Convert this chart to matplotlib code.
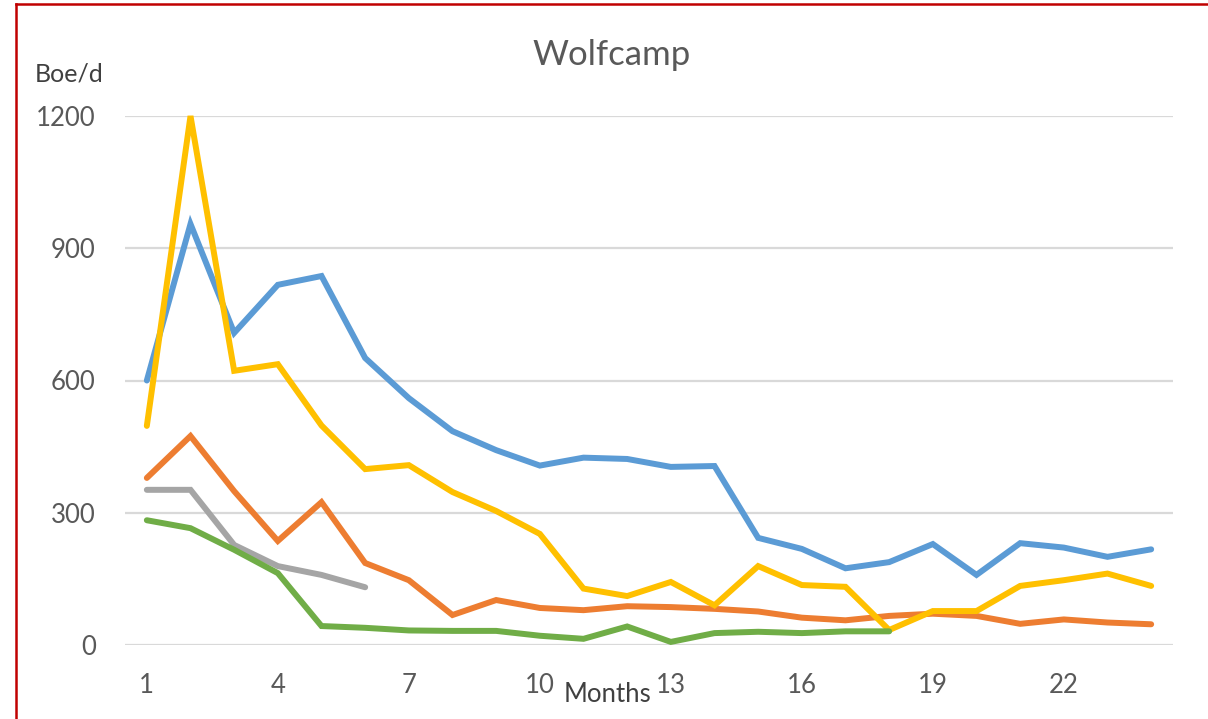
"""
Wolfcamp well production decline, Boe/d by month.
"""
import matplotlib
matplotlib.use("Agg")
import matplotlib.pyplot as plt
from matplotlib.lines import Line2D

BLUE   = "#5B9BD5"
ORANGE = "#ED7D31"
GRAY   = "#A5A5A5"
YELLOW = "#FFC000"
GREEN  = "#70AD47"
TEXT   = "#595959"
GRID   = "#D9D9D9"
BORDER = "#C00000"

months = list(range(1, 25))
well_blue = [600, 955, 708, 817, 837, 651, 560, 485, 442, 407, 425, 422,
             404, 406, 243, 218, 174, 188, 229, 159, 231, 221, 200, 217]
well_yellow = [497, 1200, 622, 637, 498, 399, 408, 347, 304, 252, 128, 111,
               143, 90, 179, 136, 132, 34, 77, 77, 134, 147, 162, 134]
well_orange = [379, 474, 349, 236, 324, 186, 147, 68, 102, 84, 79, 88,
               86, 82, 76, 62, 56, 66, 71, 66, 48, 58, 51, 47]
well_gray = [352, 352, 227, 179, 159, 131]
well_green = [283, 265, 216, 163, 43, 39, 33, 32, 32, 21, 14, 42,
              7, 27, 30, 27, 31, 31]

x_ticks = [1, 4, 7, 10, 13, 16, 19, 22]
y_ticks = [0, 300, 600, 900, 1200]

plt.rcParams["font.family"] = ["Lato", "DejaVu Sans"]

fig = plt.figure(figsize=(12.08, 7.19), dpi=100)
fig.patch.set_facecolor("white")
ax = fig.add_axes([125 / 1208, 1 - 645 / 719, 1048 / 1208, 529 / 719])

for series, color in [(well_blue, BLUE), (well_orange, ORANGE), (well_gray, GRAY),
                      (well_yellow, YELLOW), (well_green, GREEN)]:
    ax.plot(months[:len(series)], series, color=color, linewidth=4.3,
            solid_capstyle="round", solid_joinstyle="miter", clip_on=False)

ax.set_xlim(0.5, 24.5)
ax.set_ylim(0, 1200)
ax.set_xticks(x_ticks)
ax.set_yticks(y_ticks)
ax.tick_params(colors=TEXT, labelsize=18.5, length=0)
ax.tick_params(axis="x", pad=20)
ax.tick_params(axis="y", pad=21)
for spine in ax.spines.values():
    spine.set_visible(False)
ax.yaxis.grid(True, color=GRID, linewidth=1.6)
ax.xaxis.grid(False)
ax.set_axisbelow(True)

fig.text(612 / 1208, 1 - 55 / 719, "Wolfcamp", ha="center", va="center",
         fontsize=25, color=TEXT)
fig.text(35 / 1208, 1 - 74 / 719, "Boe/d", ha="left", va="center",
         fontsize=18, color="#404040")
fig.text(607 / 1208, 1 - 694 / 719, "Months", ha="center", va="center",
         fontsize=18.5, color="#404040")

# red frame around the chart (top and left edges visible)
fig.add_artist(Line2D([16 / 1208, 1], [1 - 4 / 719, 1 - 4 / 719],
                      transform=fig.transFigure, color=BORDER, linewidth=1.8))
fig.add_artist(Line2D([16 / 1208, 16 / 1208], [0, 1 - 4 / 719],
                      transform=fig.transFigure, color=BORDER, linewidth=1.8))

fig.savefig("out.png", dpi=100, facecolor="white")
